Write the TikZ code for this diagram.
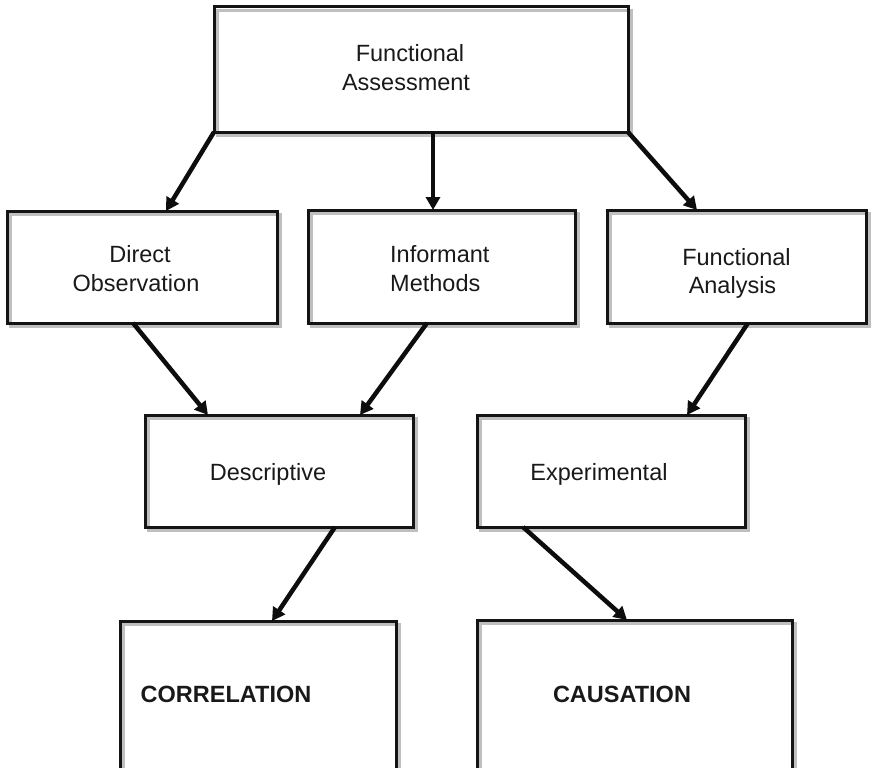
\documentclass[tikz,border=0pt]{standalone}
\usepackage{fontspec}
\setmainfont{Liberation Sans}
\usetikzlibrary{arrows.meta,backgrounds}

\tikzset{
  box/.style={rectangle, draw=black!92, line width=3pt, inner sep=0pt, outer sep=0pt},
  boxshadow/.style={draw=gray!50, line width=2.2pt},
  lbl/.style={font=\fontsize{23.5}{28}\selectfont, text=black!90, inner sep=0pt, anchor=base},
  boldlbl/.style={lbl, font=\fontsize{23.5}{28}\selectfont\bfseries},
  flow/.style={draw=black!95, line width=4.5pt, -{Triangle[length=13pt,width=14pt]}},
}

\begin{document}
\begin{tikzpicture}[x=1pt, y=-1pt]
  \clip (0,0) rectangle (873,768);

  % boxes
  \node[box, minimum width=414pt, minimum height=125pt] (fa)   at (421,69.5)  {};
  \node[box, minimum width=270pt, minimum height=112pt] (dobs) at (142,267)   {};
  \node[box, minimum width=267pt, minimum height=113pt] (im)   at (441.5,266.5) {};
  \node[box, minimum width=259pt, minimum height=113pt] (fan)  at (736.5,266.5) {};
  \node[box, minimum width=268pt, minimum height=112pt] (desc) at (279,471)   {};
  \node[box, minimum width=268pt, minimum height=112pt] (expt) at (611,471)   {};
  \node[box, minimum width=276pt, minimum height=151pt] (corr) at (258,696.5) {};
  \node[box, minimum width=315pt, minimum height=152pt] (caus) at (634.5,696) {};

  % offset grey outlines behind the boxes
  \begin{scope}[on background layer]
    \foreach \b in {fa,dobs,im,fan,desc,expt,corr,caus}
      \draw[boxshadow] ([shift={(3.5,3.5)}]\b.south west) rectangle ([shift={(3.5,3.5)}]\b.north east);
  \end{scope}

  % labels
  \node[lbl] (fa-t1) at (410,62) {Functional};
  \node[lbl] (fa-t2) at (406,91) {Assessment};
  \node[lbl] (dobs-t1) at (140,262) {Direct};
  \node[lbl] (dobs-t2) at (136,291) {Observation};
  \node[lbl, anchor=base west] (im-t1) at (390,262) {Informant};
  \node[lbl, anchor=base west] (im-t2) at (390,291) {Methods};
  \node[lbl] (fan-t1) at (736.5,265) {Functional};
  \node[lbl] (fan-t2) at (732.5,293) {Analysis};
  \node[lbl] (desc-t) at (268,480) {Descriptive};
  \node[lbl] (expt-t) at (599,480) {Experimental};
  \node[boldlbl] (corr-t) at (226,702) {CORRELATION};
  \node[boldlbl] (caus-t) at (622,702) {CAUSATION};

  % connectors
  \draw[flow] (fa.south west) -- ([xshift=24pt]dobs.north);
  \draw[flow] ([xshift=12pt]fa.south) -- ([xshift=-8.5pt]im.north);
  \draw[flow] (fa.south east) -- ([xshift=-39.5pt]fan.north);
  \draw[flow] ([xshift=-9pt]dobs.south) -- ([xshift=-71pt]desc.north);
  \draw[flow] ([xshift=-14.5pt]im.south) -- ([xshift=81pt]desc.north);
  \draw[flow] ([xshift=11.5pt]fan.south) -- ([xshift=76pt]expt.north);
  \draw[flow] ([xshift=56pt]desc.south) -- ([xshift=14pt]corr.north);
  \draw[flow] ([xshift=-88pt]expt.south) -- ([xshift=-7.5pt]caus.north);
\end{tikzpicture}
\end{document}
